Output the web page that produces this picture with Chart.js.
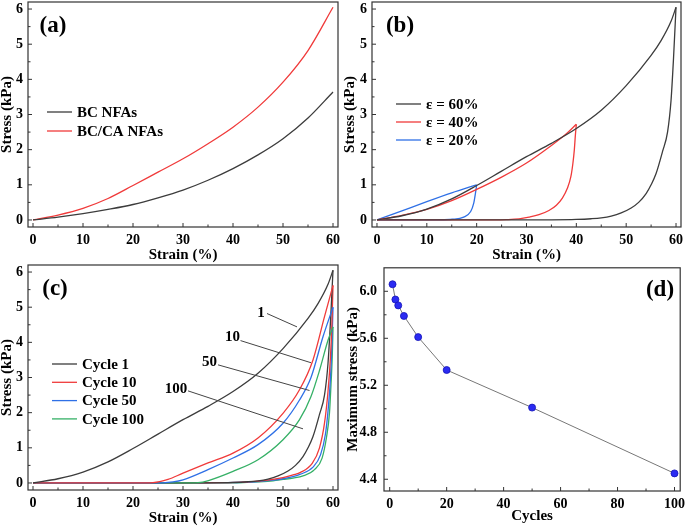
<!DOCTYPE html>
<html>
<head>
<meta charset="utf-8">
<script src="https://cdn.jsdelivr.net/npm/chart.js@4.4.1/dist/chart.umd.min.js"></script>
<style>
  body { margin: 0; background: #fff; width: 685px; height: 526px; position: relative; overflow: hidden; }
  canvas { position: absolute; }
</style>
</head>
<body>
<canvas id="chartA" width="343" height="263" style="left:0;top:0"></canvas>
<canvas id="chartB" width="342" height="263" style="left:343px;top:0"></canvas>
<canvas id="chartC" width="343" height="263" style="left:0;top:263px"></canvas>
<canvas id="chartD" width="342" height="263" style="left:343px;top:263px"></canvas>
<script>
// tick values
const strainTicks = [0, 10, 20, 30, 40, 50, 60];
const stressTicks = [0, 1, 2, 3, 4, 5, 6];
const cycleTicks = [0, 20, 40, 60, 80, 100];
const maxStressTicks = [4.4, 4.8, 5.2, 5.6, 6.0];

// (a) compression curves
const strainA = [0, 5, 10, 15, 20, 25, 30, 35, 40, 45, 50, 55, 60];
const stressBC = [0, 0.08, 0.18, 0.3, 0.44, 0.63, 0.85, 1.13, 1.46, 1.85, 2.31, 2.9, 3.64];
const stressBCCA = [0, 0.14, 0.33, 0.61, 0.98, 1.36, 1.74, 2.17, 2.64, 3.21, 3.92, 4.82, 6.05];

// (b) loading / unloading (unloading listed with increasing strain)
const load60Strain = [0, 5, 10, 15, 20, 25, 30, 35, 40, 45, 50, 55, 57, 59, 60];
const load60Stress = [0, 0.12, 0.31, 0.6, 0.98, 1.39, 1.8, 2.18, 2.6, 3.12, 3.82, 4.68, 5.1, 5.65, 6.05];
const unload60Strain = [0, 10, 20, 28, 35, 40, 43, 45, 47, 49, 51, 52.5, 54, 55, 56, 57.3, 58.3, 59, 59.5, 60];
const unload60Stress = [0, 0, 0, 0, 0.003, 0.015, 0.035, 0.06, 0.11, 0.2, 0.34, 0.5, 0.75, 1.0, 1.32, 1.95, 2.5, 3.4, 4.6, 6.05];
const load40Strain = [0, 5, 10, 15, 20, 25, 30, 35, 38, 40];
const load40Stress = [0, 0.13, 0.3, 0.55, 0.87, 1.22, 1.62, 2.12, 2.45, 2.72];
const unload40Strain = [0, 10, 20, 26, 28.5, 30.5, 32.5, 34.5, 36, 37.2, 38.2, 38.9, 39.3, 39.6, 39.8, 40];
const unload40Stress = [0, 0, 0, 0.01, 0.03, 0.08, 0.15, 0.27, 0.42, 0.62, 0.9, 1.23, 1.6, 2.0, 2.4, 2.72];
const load20Strain = [0, 5, 10, 15, 20];
const load20Stress = [0, 0.26, 0.52, 0.77, 1.0];
const unload20Strain = [0, 5, 10, 12, 15.1, 17.4, 18.8, 19.4, 19.8, 20];
const unload20Stress = [0, 0, 0, 0.005, 0.02, 0.08, 0.24, 0.47, 0.8, 1.0];

// (c) cyclic compression (cycle 1 = 60% loop above)
const load10Strain = [0, 10, 20, 24, 27, 30, 35, 40, 45, 50, 53.3, 56, 58.3, 60];
const load10Stress = [0, 0, 0, 0.01, 0.1, 0.28, 0.57, 0.85, 1.28, 1.98, 2.65, 3.5, 4.73, 5.62];
const unload10Strain = [0, 10, 20, 30, 38, 42, 45, 48, 50, 52, 53.5, 55.8, 57.3, 58.3, 59, 59.5, 59.8, 60];
const unload10Stress = [0, 0, 0, 0, 0.01, 0.025, 0.05, 0.1, 0.15, 0.23, 0.3, 0.55, 1.0, 1.7, 2.6, 3.6, 4.6, 5.62];
const load50Strain = [0, 10, 20, 26, 28, 30, 35, 40, 45, 50, 53.3, 55.6, 58, 60];
const load50Stress = [0, 0, 0, 0.005, 0.03, 0.09, 0.38, 0.71, 1.09, 1.7, 2.36, 3.0, 4.16, 5.0];
const unload50Strain = [0, 10, 20, 30, 38, 42, 45, 48, 50, 52, 53.5, 56, 57.5, 58.5, 59.1, 59.5, 59.8, 60];
const unload50Stress = [0, 0, 0, 0, 0.01, 0.02, 0.04, 0.08, 0.12, 0.18, 0.25, 0.45, 0.8, 1.4, 2.2, 3.0, 4.0, 5.0];
const load100Strain = [0, 10, 20, 30, 33, 35.1, 40, 45, 50, 53.3, 55.6, 57.3, 59, 60];
const load100Stress = [0, 0, 0, 0, 0.01, 0.07, 0.33, 0.66, 1.23, 1.8, 2.46, 3.2, 4.06, 4.44];
const unload100Strain = [0, 10, 20, 30, 38, 42, 45, 48, 50, 52, 54, 56.3, 57.8, 58.7, 59.3, 59.6, 59.85, 60];
const unload100Stress = [0, 0, 0, 0, 0, 0.012, 0.03, 0.06, 0.1, 0.14, 0.2, 0.38, 0.7, 1.3, 2.0, 2.8, 3.6, 4.44];

// (c) curve labels: text, text position, leader line from/to (data units)
const cycleNotes = ['1', '10', '50', '100'];
const noteTextX = [45.6, 39.9, 35.3, 28.6];
const noteTextY = [4.84, 4.16, 3.43, 2.67];
const noteFromX = [46.8, 41.5, 37.0, 31.0];
const noteFromY = [4.82, 4.05, 3.36, 2.62];
const noteToX = [52.8, 55.6, 55.3, 54.0];
const noteToY = [4.44, 3.42, 2.63, 1.54];

// (d) max stress vs cycles
const cycles = [1, 2, 3, 5, 10, 20, 50, 100];
const maxStress = [6.06, 5.93, 5.88, 5.79, 5.61, 5.33, 5.01, 4.45];

const BLACK = '#3c3c3c', RED = '#f03a3a', BLUE = '#2f70e6', GREEN = '#35b066';

Chart.defaults.font.family = '"Liberation Serif", "Times New Roman", serif';
Chart.defaults.font.weight = 'bold';
Chart.defaults.color = '#000';
Chart.defaults.animation = false;

const pts = (xs, ys) => xs.map((x, i) => ({x: x, y: ys[i]}));

// label '' = unloading branch, kept out of the legend
const curve = (label, xs, ys, color) => ({
  label: label,
  data: pts(xs, ys),
  borderColor: color,
  borderWidth: 1.3,
  pointRadius: 0,
  cubicInterpolationMode: 'monotone',
  fill: false
});

function axis(ticks, min, max, title, fix, fmt, tpad) {
  return {
    type: 'linear', min: min, max: max,
    grid: {display: false, drawTicks: false},
    border: {display: false},
    afterBuildTicks: s => { s.ticks = ticks.map(v => ({value: v})); },
    afterFit: s => {
      if (s.isHorizontal()) s.height = fix; else s.width = fix;
      s.paddingLeft = 0; s.paddingRight = 0; s.paddingTop = 0; s.paddingBottom = 0;
    },
    ticks: {
      font: {size: 14}, autoSkip: false, maxRotation: 0,
      padding: tpad,
      callback: fmt || (v => String(v))
    },
    title: {display: true, text: title, font: {size: 15, lineHeight: 1}, padding: 0}
  };
}

// frame, inward ticks, legend, panel letter, curve notes
const figurePlugin = {
  id: 'figure',
  afterDraw(chart, args, o) {
    const {ctx, chartArea: a, scales: {x, y}} = chart;
    ctx.save();
    ctx.strokeStyle = '#333';
    ctx.lineWidth = 1.2;
    ctx.strokeRect(a.left, a.top, a.right - a.left, a.bottom - a.top);

    const mids = t => t.slice(1).map((v, i) => (v + t[i]) / 2);
    ctx.lineWidth = 1;
    const xt = x.ticks.map(t => t.value), yt = y.ticks.map(t => t.value);
    xt.forEach(v => { const p = x.getPixelForValue(v); ctx.beginPath(); ctx.moveTo(p, a.bottom); ctx.lineTo(p, a.bottom - 4); ctx.stroke(); });
    mids(xt).forEach(v => { const p = x.getPixelForValue(v); ctx.beginPath(); ctx.moveTo(p, a.bottom); ctx.lineTo(p, a.bottom - 2.5); ctx.stroke(); });
    yt.forEach(v => { const p = y.getPixelForValue(v); ctx.beginPath(); ctx.moveTo(a.left, p); ctx.lineTo(a.left + 4, p); ctx.stroke(); });
    mids(yt).forEach(v => { const p = y.getPixelForValue(v); ctx.beginPath(); ctx.moveTo(a.left, p); ctx.lineTo(a.left + 2.5, p); ctx.stroke(); });

    if (o.letter) {
      ctx.fillStyle = '#000';
      ctx.font = 'bold 23px "Liberation Serif", serif';
      ctx.textAlign = 'center';
      ctx.textBaseline = 'middle';
      ctx.fillText(o.letter, o.letterX, o.letterY);
    }

    if (o.legend) {
      const L = o.legend;
      ctx.font = 'bold 15px "Liberation Serif", serif';
      ctx.textAlign = 'left';
      ctx.textBaseline = 'middle';
      chart.data.datasets.filter(ds => ds.label).forEach((ds, i) => {
        const ly = a.top + L.top + i * L.gap;
        const lx = a.left + L.left;
        ctx.strokeStyle = ds.borderColor;
        ctx.lineWidth = 1.3;
        ctx.beginPath(); ctx.moveTo(lx, ly); ctx.lineTo(lx + 25, ly); ctx.stroke();
        ctx.fillStyle = '#000';
        ctx.fillText(ds.label, lx + 30, ly + 1);
      });
    }

    if (o.notes) {
      ctx.font = 'bold 15px "Liberation Serif", serif';
      ctx.textAlign = 'center';
      ctx.textBaseline = 'middle';
      ctx.strokeStyle = '#444';
      ctx.lineWidth = 1;
      cycleNotes.forEach((t, i) => {
        ctx.fillStyle = '#000';
        ctx.fillText(t, x.getPixelForValue(noteTextX[i]), y.getPixelForValue(noteTextY[i]));
        ctx.beginPath();
        ctx.moveTo(x.getPixelForValue(noteFromX[i]), y.getPixelForValue(noteFromY[i]));
        ctx.lineTo(x.getPixelForValue(noteToX[i]), y.getPixelForValue(noteToY[i]));
        ctx.stroke();
      });
    }
    ctx.restore();
  }
};

function strainChart(id, datasets, yWidth, padRight, fig) {
  return new Chart(document.getElementById(id), {
    type: 'line',
    data: {datasets: datasets},
    options: {
      responsive: false,
      devicePixelRatio: 1,
      layout: {padding: {left: 0, top: 2, right: padRight, bottom: 0}},
      scales: {
        x: axis(strainTicks, -1, 61, 'Strain (%)', 36, null, 5),
        y: axis(stressTicks, -0.2, 6.2, 'Stress (kPa)', yWidth, null, 5)
      },
      plugins: {legend: {display: false}, tooltip: {enabled: false}, figure: fig}
    },
    plugins: [figurePlugin]
  });
}

strainChart('chartA', [
  curve('BC NFAs', strainA, stressBC, BLACK),
  curve('BC/CA NFAs', strainA, stressBCCA, RED)
], 28, 5, {letter: '(a)', letterX: 53, letterY: 26, legend: {left: 19, top: 110, gap: 19}});

strainChart('chartB', [
  curve('ε = 60%', load60Strain, load60Stress, BLACK),
  curve('ε = 40%', load40Strain, load40Stress, RED),
  curve('ε = 20%', load20Strain, load20Stress, BLUE),
  curve('', unload60Strain, unload60Stress, BLACK),
  curve('', unload40Strain, unload40Stress, RED),
  curve('', unload20Strain, unload20Stress, BLUE)
], 29, 4, {letter: '(b)', letterX: 57, letterY: 26, legend: {left: 24, top: 102, gap: 18}});

strainChart('chartC', [
  curve('Cycle 1', load60Strain, load60Stress, BLACK),
  curve('Cycle 10', load10Strain, load10Stress, RED),
  curve('Cycle 50', load50Strain, load50Stress, BLUE),
  curve('Cycle 100', load100Strain, load100Stress, GREEN),
  curve('', unload60Strain, unload60Stress, BLACK),
  curve('', unload10Strain, unload10Stress, RED),
  curve('', unload50Strain, unload50Stress, BLUE),
  curve('', unload100Strain, unload100Stress, GREEN)
], 28, 5, {letter: '(c)', letterX: 55, letterY: 26, legend: {left: 24, top: 99, gap: 18.3}, notes: true});

const dX = axis(cycleTicks, -2, 102, 'Cycles', 35, null, 5);
dX.title.padding = {top: 0, bottom: 2.5};
const dY = axis(maxStressTicks, 4.3, 6.2, 'Maximum stress (kPa)', 41, v => v.toFixed(1), 7);
dY.title.padding = {top: 2.5, bottom: 0};

new Chart(document.getElementById('chartD'), {
  type: 'line',
  data: {
    datasets: [{
      label: 'Maximum stress',
      data: pts(cycles, maxStress),
      borderColor: '#777',
      borderWidth: 1,
      pointRadius: 3.5,
      pointBackgroundColor: '#2b2bf2',
      pointBorderColor: '#1414b8',
      pointBorderWidth: 0.8,
      tension: 0
    }]
  },
  options: {
    responsive: false,
    devicePixelRatio: 1,
    layout: {padding: {left: 0, top: 2, right: 4, bottom: 0}},
    scales: {x: dX, y: dY},
    plugins: {legend: {display: false}, tooltip: {enabled: false},
      figure: {letter: '(d)', letterX: 317, letterY: 27}}
  },
  plugins: [figurePlugin]
});
</script>
</body>
</html>
